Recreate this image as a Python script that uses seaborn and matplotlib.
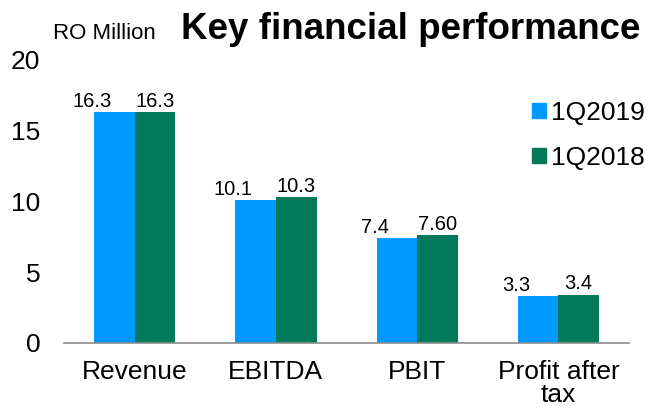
import pandas as pd
import numpy as np
import seaborn as sns
import matplotlib.pyplot as plt
from matplotlib.patches import Patch

# DATA
categories = ["Revenue", "EBITDA", "PBIT", "Profit after\ntax"]
series = ["1Q2019", "1Q2018"]
q2019 = [16.3, 10.1, 7.4, 3.3]
q2018 = [16.3, 10.3, 7.6, 3.4]
labels_2019 = ["16.3", "10.1", "7.4", "3.3"]
labels_2018 = ["16.3", "10.3", "7.60", "3.4"]
colors = ["#0099FF", "#007A5A"]

df = pd.DataFrame({
    "cat": categories * 2,
    "period": [series[0]] * 4 + [series[1]] * 4,
    "value": q2019 + q2018,
})

sns.set_style("white")
plt.rcParams["font.family"] = ["Liberation Sans", "DejaVu Sans"]
plt.rcParams["text.color"] = "black"

fig = plt.figure(figsize=(6.48, 4.12), dpi=100)
ax = fig.add_axes([0.0988, 0.1675, 0.872, 0.687])

sns.barplot(data=df, x="cat", y="value", hue="period", palette=colors,
            width=0.575, saturation=1, linewidth=0, ax=ax, legend=False)

# value labels, blue ones sit a little left of their bar like the original
for cont, labs, dx in zip(ax.containers, [labels_2019, labels_2018], [-16, 0]):
    for bar, lab in zip(cont, labs):
        ax.annotate(lab, (bar.get_x() + bar.get_width() / 2, bar.get_height()),
                    xytext=(dx, 1), textcoords="offset points",
                    ha="center", va="bottom", fontsize=14.5, color="black")

ax.set_ylim(0, 20)
ax.set_xlim(-0.5, 3.5)
ax.set_yticks([0, 5, 10, 15, 20])
ax.tick_params(axis="y", labelsize=19, length=0, pad=17, labelcolor="black")
ax.tick_params(axis="x", which="major", labelsize=19, length=0, pad=12,
               labelcolor="black")
for t in ax.get_xticklabels():
    t.set_linespacing(0.95)
ax.set_xticks(np.arange(-0.5, 4, 1), minor=True)
ax.tick_params(axis="x", which="minor", length=5.5, color="#8c8c8c", width=1.2)
ax.set_xlabel("")
ax.set_ylabel("")

for s in ["top", "right", "left"]:
    ax.spines[s].set_visible(False)
ax.spines["bottom"].set_color("#8c8c8c")
ax.spines["bottom"].set_linewidth(1.2)

fig.text(0.082, 0.905, "RO Million", fontsize=16, va="baseline", ha="left")
fig.text(0.989, 0.905, "Key financial performance", fontsize=26.5,
         fontweight="bold", va="baseline", ha="right")

handles = [Patch(color=c) for c in colors]
fig.legend(handles, series, loc="upper left", bbox_to_anchor=(0.821, 0.755),
           frameon=False, fontsize=19, handlelength=0.53, handleheight=0.53,
           handletextpad=0.19, labelspacing=0.8, borderpad=0, borderaxespad=0)

fig.savefig("out.png", dpi=100)
